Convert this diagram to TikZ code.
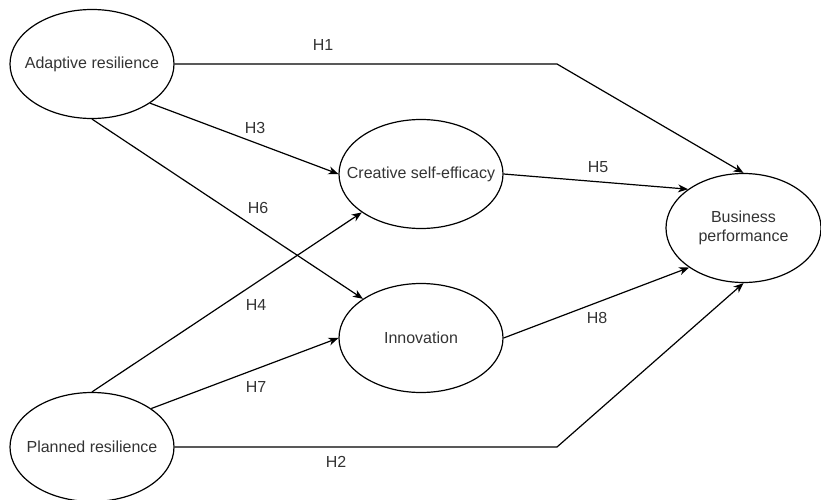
\documentclass[tikz,border=0pt]{standalone}
\usepackage{fontspec}
\setmainfont{Liberation Sans}
\usepackage{tikz}
\usetikzlibrary{shapes.geometric}
\usetikzlibrary{arrows.meta}
\definecolor{textColor}{HTML}{333333}
\begin{document}
\begin{tikzpicture}[
		x=1pt, y=-1pt,
		arrow/.style={-{Stealth[length=10pt, width=8pt, inset=3pt]}, draw=black, line width=1.2pt},
		construct/.style={ellipse, draw=black, line width=1.2pt, inner ysep=0pt, inner xsep=-25pt, minimum width=164pt, minimum height=109pt, align=center, font=\fontsize{16}{19}\selectfont, text=textColor},
		hyp/.style={font=\fontsize{16}{19}\selectfont, text=textColor, inner sep=0pt},
	]
	\useasboundingbox (0, 0) rectangle (821, 500);
	% Constructs
	\node[construct] (adaptive) at (92, 64) {Adaptive resilience};
	\node[construct] (planned) at (92, 447) {Planned resilience};
	\node[construct] (creative) at (421, 174) {Creative self-efficacy};
	\node[construct] (innovation) at (421, 338) {Innovation};
	\node[construct, minimum width=155pt] (business) at (743.5, 228) {Business\\performance};
	% Bends
	\coordinate (bend top) at (557, 64);
	\coordinate (bend bottom) at (557, 447);
	% Paths
	\draw[arrow] (adaptive.east) -- (bend top) -- (business.north);
	\draw[arrow] (planned.east) -- (bend bottom) -- (business.south);
	\draw[arrow] (adaptive.-34) -- (creative.west);
	\draw[arrow] (planned.north) -- (creative.213);
	\draw[arrow] (creative.east) -- (business.145);
	\draw[arrow] (adaptive.south) -- (innovation.146);
	\draw[arrow] (planned.33) -- (innovation.west);
	\draw[arrow] (innovation.east) -- (business.216);
	% Hypotheses
	\node[hyp] (h1) at (323, 45) {H1};
	\node[hyp] (h2) at (336, 462) {H2};
	\node[hyp] (h3) at (255, 128) {H3};
	\node[hyp] (h4) at (256, 305) {H4};
	\node[hyp] (h5) at (598, 167) {H5};
	\node[hyp] (h6) at (258, 208) {H6};
	\node[hyp] (h7) at (256, 387) {H7};
	\node[hyp] (h8) at (597, 318) {H8};
\end{tikzpicture}
\end{document}
